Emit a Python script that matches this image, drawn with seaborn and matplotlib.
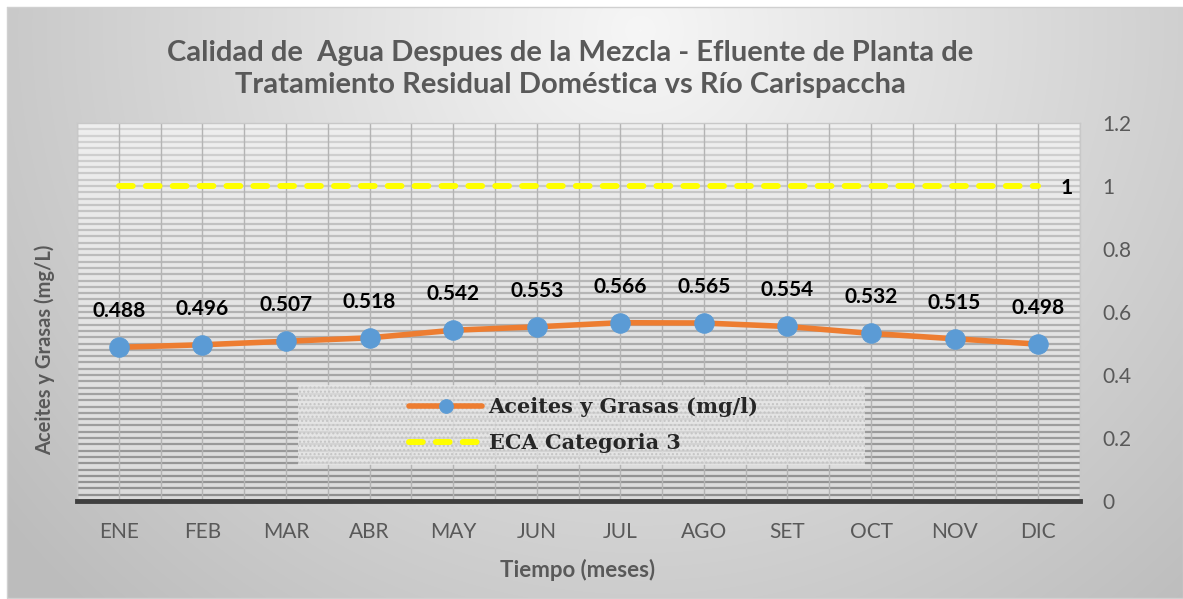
import numpy as np
import pandas as pd
import matplotlib.pyplot as plt
import seaborn as sns
from matplotlib.patches import Rectangle

# Data
meses = ['ENE', 'FEB', 'MAR', 'ABR', 'MAY', 'JUN', 'JUL', 'AGO', 'SET', 'OCT', 'NOV', 'DIC']
aceites = [0.488, 0.496, 0.507, 0.518, 0.542, 0.553, 0.566, 0.565, 0.554, 0.532, 0.515, 0.498]
eca = [1, 1, 1, 1, 1, 1, 1, 1, 1, 1, 1, 1]
yticks = [0, 0.2, 0.4, 0.6, 0.8, 1, 1.2]
ytick_labels = ['0', '0.2', '0.4', '0.6', '0.8', '1', '1.2']

df = pd.DataFrame({'mes': meses, 'aceites': aceites, 'eca': eca})
df['pos'] = range(len(meses))

sns.set_style('white')
plt.rcParams['font.family'] = ['Lato', 'DejaVu Sans']

W, H = 1183, 599
fig = plt.figure(figsize=(W / 100, H / 100), dpi=100)

# Background gradient of the whole chart
bg = fig.add_axes([0, 0, 1, 1], zorder=-10)
yy, xx = np.mgrid[0:H, 0:W]
d = np.sqrt(((xx - 640) / 720) ** 2 + ((yy - 30) / 700) ** 2)
g = np.clip(0.965 - 0.2 * d, 0.74, 1)
g[:7, :] = 1
g[:, :7] = 1
bg.imshow(np.dstack([g, g, g]), extent=[0, W, H, 0], aspect='auto', interpolation='bilinear')
bg.plot([7, W, W, 7, 7], [7, 7, H - 1, H - 1, 7], color='#d0d0d0', lw=1)
bg.set_xlim(0, W)
bg.set_ylim(H, 0)
bg.axis('off')

# Plot area
ax = fig.add_axes([77 / W, 98 / H, 1003 / W, 378 / H])
ax.set_facecolor('none')
vg = np.linspace(0.935, 0.86, 200).reshape(-1, 1)
ax.imshow(np.dstack([vg, vg, vg]), extent=[-0.5, 11.5, 0, 1.2], aspect='auto',
          origin='upper', zorder=0)

hy = np.arange(0.02, 1.2, 0.02)
hc = [str(0.56 + 0.27 * (y / 1.2)) for y in hy]
ax.hlines(hy, -0.5, 11.5, colors=hc, lw=1.6, zorder=1)
ax.vlines(np.arange(-0.5, 11.6, 0.5), 0, 1.2, colors='#b4b4b4', lw=1, zorder=1)

# Legend box (dotted)
box = Rectangle((298 / W, (H - 465) / H), 567 / W, 80 / H, transform=fig.transFigure,
                facecolor=(0.91, 0.91, 0.91, 0.75), edgecolor='#c4c4c4', hatch='....',
                lw=0, zorder=3)
ax.add_patch(box)

sns.lineplot(data=df, x='pos', y='aceites', color='#ED7D31', lw=4, marker='o',
             markersize=14, markerfacecolor='#5B9BD5', markeredgecolor='#5B9BD5',
             label='Aceites y Grasas (mg/l)', ax=ax, zorder=6)
sns.lineplot(data=df, x='pos', y='eca', color='#FFFF00', lw=4.3,
             linestyle=(0, (2.3, 2.2)), dash_capstyle='round',
             label='ECA Categoria 3', ax=ax, zorder=5)

for i, v in enumerate(aceites):
    ax.annotate(f'{v:.3f}', (i, v), xytext=(0, 26), textcoords='offset pixels',
                ha='center', va='bottom', fontsize=15, fontweight='bold', color='black')
ax.annotate(str(eca[-1]), (11, eca[-1]), xytext=(28, -2), textcoords='offset pixels',
            ha='center', va='center', fontsize=15, fontweight='bold', color='black')

ax.set_xlim(-0.5, 11.5)
ax.set_ylim(0, 1.2)
ax.set_xticks(df['pos'])
ax.set_xticklabels(meses)
ax.set_yticks(yticks)
ax.set_yticklabels(ytick_labels)
ax.yaxis.tick_right()
ax.tick_params(axis='x', length=0, pad=15, labelsize=15, labelcolor='#595959')
ax.tick_params(axis='y', length=0, pad=16, labelsize=15, labelcolor='#595959')
ax.set_xlabel('')
ax.set_ylabel('')
for s in ['top', 'left', 'right']:
    ax.spines[s].set_color('#c8c8c8')
    ax.spines[s].set_linewidth(1)
ax.spines['bottom'].set_color('#3f3f3f')
ax.spines['bottom'].set_linewidth(3.5)

leg = ax.legend(loc='center', bbox_to_anchor=(584 / W, 1 - 425 / H), bbox_transform=fig.transFigure,
                frameon=False, handlelength=3.5, handletextpad=0.3, labelspacing=0.75,
                markerscale=0.7,
                prop={'family': 'DejaVu Serif', 'weight': 'bold', 'size': 15})
leg.set_zorder(10)

fig.text(570 / W, 1 - 69 / H,
         'Calidad de  Agua Despues de la Mezcla - Efluente de Planta de\n'
         'Tratamiento Residual Doméstica vs Río Carispaccha',
         ha='center', va='center', fontsize=21, fontweight='bold', color='#595959',
         linespacing=1.25)
fig.text(45 / W, 1 - 350 / H, 'Aceites y Grasas (mg/L)', rotation=90, ha='center', va='center',
         fontsize=14.5, fontweight='bold', color='#595959')
fig.text(578 / W, 1 - 570 / H, 'Tiempo (meses)', ha='center', va='center',
         fontsize=16, fontweight='bold', color='#595959')

fig.savefig('out.png', dpi=100)
